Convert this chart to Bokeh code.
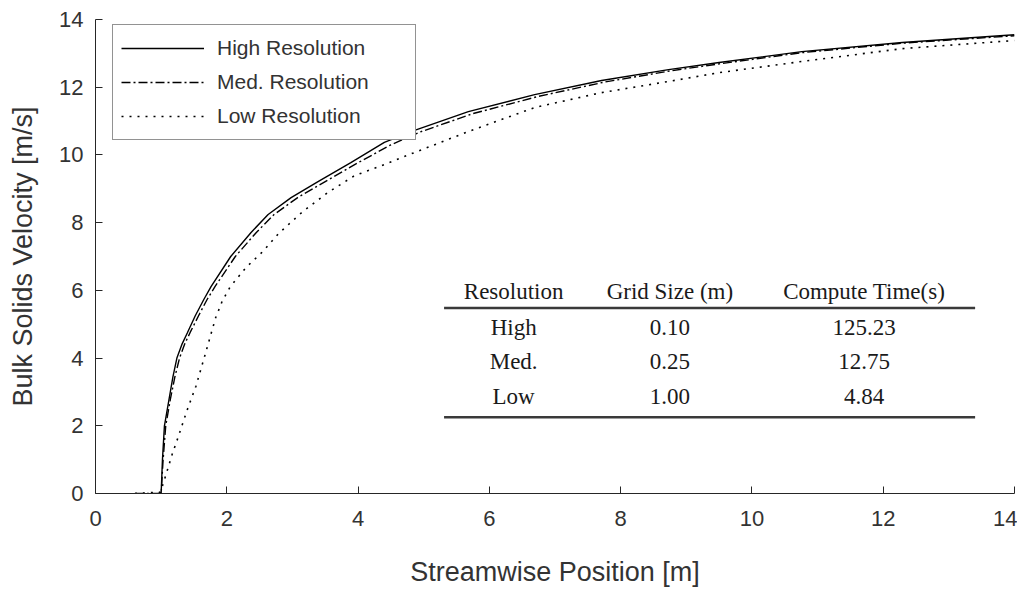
from bokeh.plotting import figure
from bokeh.models import Range1d, FixedTicker, Legend, LegendItem, Label
from bokeh.embed import file_html
from bokeh.resources import INLINE

# ---------------- data ----------------
high_x = [0.95, 1.00, 1.02, 1.05, 1.12, 1.18, 1.24, 1.32, 1.40, 1.52, 1.65, 1.76, 2.06, 2.37, 2.63,
          2.98, 3.39, 3.89, 4.40, 4.85, 5.68, 6.69, 7.71, 8.73, 9.50, 10.76, 12.29, 14.00]
high_y = [0.00, 0.00, 1.00, 2.00, 2.78, 3.45, 4.00, 4.42, 4.75, 5.25, 5.73, 6.11, 7.00, 7.71, 8.24,
          8.74, 9.21, 9.77, 10.37, 10.72, 11.28, 11.78, 12.20, 12.52, 12.73, 13.05, 13.32, 13.55]

med_x = [0.60, 1.00, 1.03, 1.07, 1.14, 1.21, 1.28, 1.36, 1.44, 1.57, 1.70, 1.82, 2.13, 2.45, 2.72,
         3.08, 3.50, 4.00, 4.50, 4.95, 5.75, 6.75, 7.75, 8.75, 9.50, 10.76, 12.29, 14.00]
med_y = [0.00, 0.00, 1.00, 2.00, 2.78, 3.45, 4.00, 4.42, 4.75, 5.25, 5.73, 6.11, 7.00, 7.71, 8.24,
         8.74, 9.21, 9.77, 10.30, 10.68, 11.22, 11.73, 12.15, 12.48, 12.69, 13.02, 13.30, 13.52]

low_x = [0.60, 0.99, 1.05, 1.09, 1.17, 1.26, 1.39, 1.53, 1.68, 1.83, 1.93, 2.05, 2.29, 2.55, 2.79,
         3.16, 3.54, 3.94, 4.46, 4.70, 5.68, 6.69, 7.71, 8.73, 9.50, 10.76, 12.29, 14.00]
low_y = [0.00, 0.04, 0.41, 0.66, 1.17, 1.67, 2.43, 3.17, 4.17, 5.19, 5.68, 6.10, 6.67, 7.15, 7.68,
         8.33, 8.89, 9.38, 9.76, 9.95, 10.69, 11.40, 11.84, 12.17, 12.43, 12.76, 13.14, 13.38]

series_labels = ["High Resolution", "Med. Resolution", "Low Resolution"]

x_ticks = [0, 2, 4, 6, 8, 10, 12, 14]
y_ticks = [0, 2, 4, 6, 8, 10, 12, 14]

table_header = ["Resolution", "Grid Size (m)", "Compute Time(s)"]
table_resolution = ["High", "Med.", "Low"]
table_grid = ["0.10", "0.25", "1.00"]
table_time = ["125.23", "12.75", "4.84"]

# ---------------- layout constants (table placement, data units) ----------------
TABLE_COL_X = [6.37, 8.75, 11.71]
TABLE_HEAD_Y = 5.97
TABLE_ROW_Y = [4.89, 3.89, 2.87]
TABLE_RULE_X = (5.31, 13.40)
TABLE_RULE_Y = [5.48, 2.25]

AX = "#262626"
TXT = "#333333"

p = figure(frame_width=919, frame_height=474,
           x_range=Range1d(0, 14), y_range=Range1d(0, 14),
           output_backend="svg", toolbar_location=None,
           min_border_left=95, min_border_right=3, min_border_top=19, min_border_bottom=89,
           background_fill_color="white", border_fill_color="white")
p.grid.visible = False
p.outline_line_color = None

for ax in (p.xaxis[0], p.yaxis[0]):
    ax.major_tick_in = 7
    ax.major_tick_out = 0
    ax.minor_tick_line_color = None
    ax.axis_line_color = AX
    ax.major_tick_line_color = AX
    ax.major_label_text_font = "Liberation Sans"
    ax.major_label_text_font_size = "22px"
    ax.major_label_text_color = TXT
    ax.axis_label_text_font = "Liberation Sans"
    ax.axis_label_text_font_size = "27px"
    ax.axis_label_text_font_style = "normal"
    ax.axis_label_text_color = TXT

p.xaxis.ticker = FixedTicker(ticks=x_ticks)
p.yaxis.ticker = FixedTicker(ticks=y_ticks)
p.xaxis.axis_label = "Streamwise Position [m]"
p.yaxis.axis_label = "Bulk Solids Velocity [m/s]"
p.xaxis.major_label_standoff = 17
p.yaxis.major_label_standoff = 12
p.xaxis.axis_label_standoff = 28
p.yaxis.axis_label_standoff = 18

r_low = p.line(low_x, low_y, line_color="black", line_width=1.6, line_dash="2 6")
r_med = p.line(med_x, med_y, line_color="black", line_width=1.4, line_dash="9 3 2 3")
r_high = p.line(high_x, high_y, line_color="black", line_width=1.4)

legend = Legend(items=[LegendItem(label=series_labels[0], renderers=[r_high]),
                       LegendItem(label=series_labels[1], renderers=[r_med]),
                       LegendItem(label=series_labels[2], renderers=[r_low])],
                location=(17, 353), margin=0, padding=8, spacing=4,
                label_height=30, glyph_height=30, glyph_width=83, label_standoff=13,
                label_width=190,
                label_text_font="Liberation Sans", label_text_font_size="21px",
                label_text_color=TXT,
                border_line_color=AX, border_line_width=1,
                background_fill_color="white", background_fill_alpha=1.0)
p.add_layout(legend)

# table rules
p.line([TABLE_RULE_X[0], TABLE_RULE_X[1]], [TABLE_RULE_Y[0]] * 2, line_color="#3a3a3a", line_width=2.5)
p.line([TABLE_RULE_X[0], TABLE_RULE_X[1]], [TABLE_RULE_Y[1]] * 2, line_color="#3a3a3a", line_width=2.5)

def cell(x, y, t):
    p.add_layout(Label(x=x, y=y, text=t, text_align="center", text_baseline="middle",
                       text_font="Liberation Serif", text_font_size="23px", text_color="#1a1a1a"))

for cx, h in zip(TABLE_COL_X, table_header):
    cell(cx, TABLE_HEAD_Y, h)
for ry, a, b, c in zip(TABLE_ROW_Y, table_resolution, table_grid, table_time):
    cell(TABLE_COL_X[0], ry, a)
    cell(TABLE_COL_X[1], ry, b)
    cell(TABLE_COL_X[2], ry, c)

open("out.html", "w").write(file_html(p, INLINE))
